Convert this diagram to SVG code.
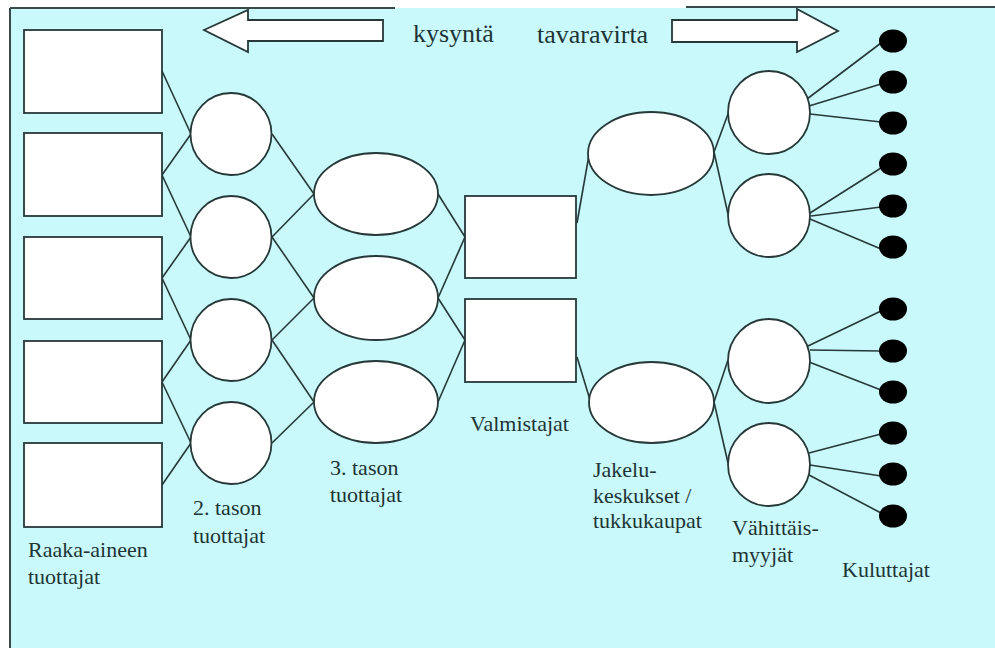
<svg xmlns="http://www.w3.org/2000/svg" width="995" height="648" viewBox="0 0 995 648">
<style>
.bg{fill:#c9f9fb}
.frame{stroke:#3a4a4a;stroke-width:2;fill:none}
.box{fill:#ffffff;stroke:#263838;stroke-width:1.8}
.dot{fill:#000000;stroke:none}
.conn line{stroke:#263838;stroke-width:1.6}
.arrow{fill:#ffffff;stroke:#263838;stroke-width:1.8;stroke-linejoin:miter}
text{font-family:'Liberation Serif','DejaVu Serif',serif;fill:#1e3434}
.head{font-size:26px}
.lbl{font-size:22px}
</style>
<rect x="0" y="0" width="995" height="648" fill="#ffffff"/>
<rect class="bg" x="10" y="8" width="985" height="640"/>
<line class="frame" x1="10" y1="8" x2="10" y2="648"/>
<line class="frame" x1="10" y1="8" x2="395" y2="8"/>
<line class="frame" x1="686" y1="7" x2="995" y2="7"/>

<g id="arrow-kysynta">
<polygon class="arrow" points="204,30 248,10 248,20 383,20 383,41 248,41 248,52"/>
<text class="head" x="413" y="42" font-family="Liberation Serif, DejaVu Serif, serif">kysyntä</text>
</g>
<g id="arrow-tavaravirta">
<polygon class="arrow" points="672,20 797,20 797,9 838,31 797,52 797,42 672,42"/>
<text class="head" x="537" y="43" font-family="Liberation Serif, DejaVu Serif, serif">tavaravirta</text>
</g>

<g id="connectors" class="conn">
<line x1="162" y1="71" x2="191" y2="134"/>
<line x1="162" y1="175" x2="191" y2="134"/>
<line x1="162" y1="175" x2="191" y2="237"/>
<line x1="162" y1="278" x2="191" y2="237"/>
<line x1="162" y1="278" x2="191" y2="340"/>
<line x1="162" y1="382" x2="191" y2="340"/>
<line x1="162" y1="382" x2="191" y2="443"/>
<line x1="162" y1="485" x2="191" y2="443"/>
<line x1="272" y1="134" x2="314" y2="194"/>
<line x1="272" y1="237" x2="314" y2="194"/>
<line x1="272" y1="237" x2="314" y2="298"/>
<line x1="272" y1="340" x2="314" y2="298"/>
<line x1="272" y1="340" x2="314" y2="402"/>
<line x1="272" y1="443" x2="314" y2="402"/>
<line x1="438" y1="194" x2="465" y2="237"/>
<line x1="438" y1="298" x2="465" y2="237"/>
<line x1="438" y1="298" x2="465" y2="340"/>
<line x1="438" y1="402" x2="465" y2="340"/>
<line x1="577" y1="223" x2="589" y2="155"/>
<line x1="577" y1="357" x2="590" y2="400"/>
<line x1="714" y1="152" x2="728" y2="114"/>
<line x1="714" y1="152" x2="728" y2="214"/>
<line x1="714" y1="402" x2="728" y2="360"/>
<line x1="714" y1="402" x2="728" y2="463"/>
<line x1="807" y1="99" x2="881" y2="43"/>
<line x1="809" y1="106" x2="881" y2="84"/>
<line x1="810" y1="114" x2="881" y2="122"/>
<line x1="810" y1="213" x2="881" y2="168"/>
<line x1="811" y1="216" x2="881" y2="207"/>
<line x1="810" y1="219" x2="881" y2="249"/>
<line x1="808" y1="346" x2="881" y2="311"/>
<line x1="810" y1="350" x2="881" y2="351"/>
<line x1="809" y1="362" x2="881" y2="390"/>
<line x1="809" y1="453" x2="881" y2="434"/>
<line x1="810" y1="465" x2="881" y2="476"/>
<line x1="809" y1="475" x2="881" y2="513"/>
</g>

<g id="raw-1"><rect class="box" x="24" y="30" width="138" height="83"/></g>
<g id="raw-2"><rect class="box" x="24" y="133" width="138" height="83"/></g>
<g id="raw-3"><rect class="box" x="24" y="237" width="138" height="82"/></g>
<g id="raw-4"><rect class="box" x="24" y="341" width="138" height="82"/></g>
<g id="raw-5"><rect class="box" x="24" y="443" width="138" height="84"/></g>
<g id="raw-label"><text class="lbl" x="28" y="557">Raaka-aineen</text><text class="lbl" x="28" y="584">tuottajat</text></g>

<g id="lvl2-1"><ellipse class="box" cx="231" cy="134" rx="40.5" ry="41"/></g>
<g id="lvl2-2"><ellipse class="box" cx="231" cy="237" rx="40.5" ry="41"/></g>
<g id="lvl2-3"><ellipse class="box" cx="231" cy="340" rx="40.5" ry="41"/></g>
<g id="lvl2-4"><ellipse class="box" cx="231" cy="443" rx="40.5" ry="41"/></g>
<g id="lvl2-label"><text class="lbl" x="193" y="515">2. tason</text><text class="lbl" x="193" y="543">tuottajat</text></g>

<g id="lvl3-1"><ellipse class="box" cx="376" cy="194" rx="62" ry="41"/></g>
<g id="lvl3-2"><ellipse class="box" cx="376" cy="298" rx="62" ry="42"/></g>
<g id="lvl3-3"><ellipse class="box" cx="376" cy="402" rx="62" ry="41"/></g>
<g id="lvl3-label"><text class="lbl" x="330" y="475">3. tason</text><text class="lbl" x="330" y="502">tuottajat</text></g>

<g id="mfg-1"><rect class="box" x="465" y="196" width="111" height="82"/></g>
<g id="mfg-2"><rect class="box" x="465" y="299" width="111" height="83"/></g>
<g id="mfg-label"><text class="lbl" x="470" y="431">Valmistajat</text></g>

<g id="dist-1"><ellipse class="box" cx="651" cy="153.5" rx="63" ry="41.5"/></g>
<g id="dist-2"><ellipse class="box" cx="651.5" cy="402.5" rx="62.5" ry="40.5"/></g>
<g id="dist-label"><text class="lbl" x="593" y="477">Jakelu-</text><text class="lbl" x="593" y="503">keskukset /</text><text class="lbl" x="593" y="528">tukkukaupat</text></g>

<g id="ret-1"><ellipse class="box" cx="769" cy="112.5" rx="41" ry="41.5"/></g>
<g id="ret-2"><ellipse class="box" cx="769" cy="215.5" rx="41" ry="41.5"/></g>
<g id="ret-3"><ellipse class="box" cx="769" cy="361" rx="41" ry="42"/></g>
<g id="ret-4"><ellipse class="box" cx="769" cy="464.5" rx="41" ry="41.5"/></g>
<g id="ret-label"><text class="lbl" x="732" y="535">Vähittäis-</text><text class="lbl" x="732" y="562">myyjät</text></g>

<g id="cons-1"><ellipse class="dot" cx="893" cy="41" rx="14" ry="11.5"/></g>
<g id="cons-2"><ellipse class="dot" cx="893" cy="82" rx="14" ry="11.5"/></g>
<g id="cons-3"><ellipse class="dot" cx="893" cy="123" rx="14" ry="11.5"/></g>
<g id="cons-4"><ellipse class="dot" cx="893" cy="164" rx="14" ry="11.5"/></g>
<g id="cons-5"><ellipse class="dot" cx="893" cy="206" rx="14" ry="11.5"/></g>
<g id="cons-6"><ellipse class="dot" cx="893" cy="247" rx="14" ry="11.5"/></g>
<g id="cons-7"><ellipse class="dot" cx="893" cy="309" rx="14" ry="11.5"/></g>
<g id="cons-8"><ellipse class="dot" cx="893" cy="351" rx="14" ry="11.5"/></g>
<g id="cons-9"><ellipse class="dot" cx="893" cy="392" rx="14" ry="11.5"/></g>
<g id="cons-10"><ellipse class="dot" cx="893" cy="433" rx="14" ry="11.5"/></g>
<g id="cons-11"><ellipse class="dot" cx="893" cy="474" rx="14" ry="11.5"/></g>
<g id="cons-12"><ellipse class="dot" cx="893" cy="516" rx="14" ry="11.5"/></g>
<g id="cons-label"><text class="lbl" x="842" y="577">Kuluttajat</text></g>
</svg>
